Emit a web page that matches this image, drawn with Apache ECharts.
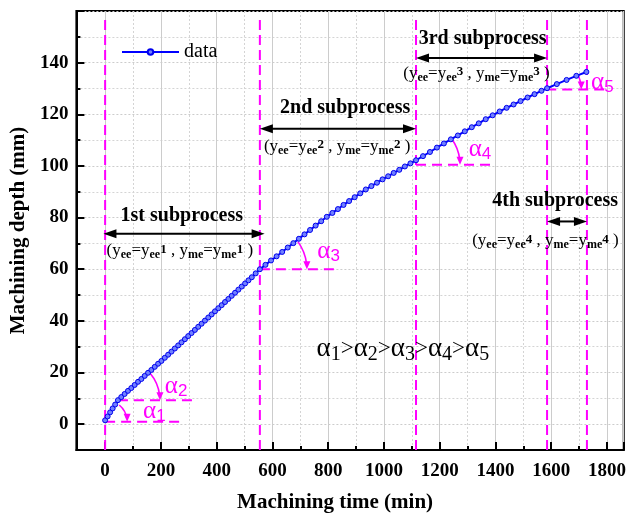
<!DOCTYPE html>
<html>
<head>
<meta charset="utf-8">
<script src="https://cdn.jsdelivr.net/npm/echarts@6/dist/echarts.min.js"></script>
<style>
  html, body { margin: 0; padding: 0; background: #fff; }
  #chart { width: 629px; height: 518px; }
</style>
</head>
<body>
<div id="chart"></div>
<script>
// Machining depth (mm) recorded against machining time (min)
const times = [
  0, 9, 18, 27, 36, 46,
  58, 70, 82, 94, 106, 118, 130, 142, 154, 166, 178, 190, 202, 214, 226, 238, 250, 262, 274, 286,
  298, 310, 322, 334, 346, 358, 370, 382, 394, 406, 418, 430, 442, 454, 466, 478, 490, 502, 514,
  526, 540, 555,
  575, 595, 615, 635, 655, 675, 695, 715, 735, 755, 775, 795, 815, 835, 855, 875, 895, 915, 935,
  955, 975, 995, 1015, 1035, 1055, 1075, 1095, 1115,
  1140, 1165, 1190, 1215, 1240, 1265, 1290, 1315, 1340, 1365, 1390, 1415, 1440, 1465, 1490, 1515,
  1540, 1565, 1585,
  1620, 1655, 1690, 1726
];
const depths = [
  1.5, 3.0, 4.6, 6.1, 7.6, 9.3,
  10.5, 11.7, 12.9, 14.0, 15.2, 16.4, 17.5, 18.7, 19.9, 21.0, 22.2, 23.4, 24.5, 25.7, 26.9, 28.1, 29.3, 30.5, 31.7, 32.9,
  34.1, 35.3, 36.5, 37.7, 38.9, 40.1, 41.3, 42.5, 43.7, 44.9, 46.1, 47.3, 48.5, 49.7, 50.9, 52.1, 53.3, 54.5, 55.7,
  56.9, 58.4, 60.0,
  61.7, 63.4, 65.0, 66.7, 68.4, 70.1, 71.8, 73.5, 75.2, 76.9, 78.6, 80.3, 81.8, 83.3, 84.9, 86.4, 87.9, 89.4, 90.9,
  92.2, 93.5, 94.8, 96.0, 97.3, 98.5, 99.8, 101.0, 102.2,
  103.8, 105.4, 107.1, 108.7, 110.3, 111.8, 113.4, 115.0, 116.5, 118.1, 119.6, 121.1, 122.5, 123.8, 125.1, 126.5,
  127.8, 129.1, 130.1,
  131.7, 133.3, 134.9, 136.4
];

// Subprocess boundaries (min) and their labels
const boundaries = [0, 555, 1115, 1585, 1728];
const subprocessNames = ['1st subprocess', '2nd subprocess', '3rd subprocess', '4th subprocess'];
const angleNames = ['1', '2', '3', '4', '5'];

const SERIF = '"Liberation Serif", "Times New Roman", serif';
const SANS = '"Liberation Sans", Arial, sans-serif';
const MAGENTA = '#ff00ff';

const series0 = times.map((t, i) => [t, depths[i]]);

// ---- annotation layer (all anchored in data coordinates) ----
const annos = [];
boundaries.forEach(t => annos.push({ kind: 'vline', t: t, d0: -10, d1: 157 }));

// reference lines and angle arcs at the start of each stage
const angleMarks = [
  { t: 0,    d: 0.9,   end: 280,  r: 22, a: 50, lt: 136,  ld: 5.0 },
  { t: 46,   d: 9.3,   end: 327,  r: 42, a: 40, lt: 214,  ld: 14.7 },
  { t: 555,  d: 60,    end: 840,  r: 47, a: 36, lt: 761,  ld: 66.8 },
  { t: 1115, d: 100.5, end: 1387, r: 44, a: 36, lt: 1304, ld: 106.4 },
  { t: 1582, d: 129.6, end: 1792, r: 35, a: 24, lt: 1743, ld: 132.4 }
];
angleMarks.forEach((m, i) => {
  annos.push({ kind: 'hline', t: m.t, d: m.d, t1: m.end });
  annos.push({ kind: 'arc', t: m.t, d: m.d, r: m.r, a: m.a });
  annos.push({ kind: 'alpha', t: m.lt, d: m.ld, n: angleNames[i] });
});

// stage spans: double arrows, titles and parameter notes
const stageMarks = [
  { t0: -6,   t1: 572,  ad: 73.7,  tt: 275,  td: 80.7,  pt: 268,  pd: 67.2 },
  { t0: 555,  t1: 1115, ad: 114.4, tt: 861,  td: 122.6, pt: 832,  pd: 107.7 },
  { t0: 1115, t1: 1585, ad: 141.8, tt: 1354, td: 149.2, pt: 1332, pd: 135.9 },
  { t0: 1585, t1: 1728, ad: 78.5,  tt: 1614, td: 86.5,  pt: 1579, pd: 71.0 }
];
stageMarks.forEach((s, i) => {
  annos.push({ kind: 'darrow', t: s.t0, t1: s.t1, d: s.ad });
  annos.push({ kind: 'title', t: s.tt, d: s.td, text: subprocessNames[i] });
  annos.push({ kind: 'param', t: s.pt, d: s.pd, n: String(i + 1) });
});
annos.push({ kind: 'order', t: 1068, d: 29 });

function renderAnno(params, api) {
  const a = annos[params.dataIndex];
  if (a.kind === 'vline') {
    const p0 = api.coord([a.t, a.d0]), p1 = api.coord([a.t, a.d1]);
    return { type: 'line', shape: { x1: p0[0], y1: p0[1], x2: p1[0], y2: p1[1] },
      style: { stroke: MAGENTA, lineWidth: 2, lineDash: [10, 5] } };
  }
  if (a.kind === 'hline') {
    const p0 = api.coord([a.t, a.d]), p1 = api.coord([a.t1, a.d]);
    return { type: 'line', shape: { x1: p0[0], y1: p0[1], x2: p1[0], y2: p1[1] },
      style: { stroke: MAGENTA, lineWidth: 2, lineDash: [10, 6] } };
  }
  if (a.kind === 'arc') {
    const c = api.coord([a.t, a.d]);
    const ex = c[0] + a.r, ey = c[1];
    return { type: 'group', children: [
      { type: 'arc', shape: { cx: c[0], cy: c[1], r: a.r, startAngle: -a.a * Math.PI / 180, endAngle: -0.12, clockwise: true },
        style: { stroke: MAGENTA, lineWidth: 1.6, fill: null } },
      { type: 'polygon', shape: { points: [[ex - 3.5, ey - 8], [ex + 3.5, ey - 8], [ex, ey]] },
        style: { fill: MAGENTA } }
    ] };
  }
  if (a.kind === 'alpha') {
    const p = api.coord([a.t, a.d]);
    return { type: 'text', x: p[0], y: p[1], style: {
      text: '{a|α}{s|' + a.n + '}', align: 'left', verticalAlign: 'middle', fill: MAGENTA,
      rich: {
        a: { fontFamily: SERIF, fontSize: 25, lineHeight: 28, fill: MAGENTA },
        s: { fontFamily: SANS, fontSize: 17, lineHeight: 17, padding: [10, 0, 0, 0], fill: MAGENTA }
      } } };
  }
  if (a.kind === 'darrow') {
    const p0 = api.coord([a.t, a.d]), p1 = api.coord([a.t1, a.d]);
    const y = p0[1];
    return { type: 'group', children: [
      { type: 'line', shape: { x1: p0[0] + 6, y1: y, x2: p1[0] - 6, y2: y }, style: { stroke: '#000', lineWidth: 2 } },
      { type: 'polygon', shape: { points: [[p0[0], y], [p0[0] + 13, y - 4.5], [p0[0] + 13, y + 4.5]] }, style: { fill: '#000' } },
      { type: 'polygon', shape: { points: [[p1[0], y], [p1[0] - 13, y - 4.5], [p1[0] - 13, y + 4.5]] }, style: { fill: '#000' } }
    ] };
  }
  if (a.kind === 'title') {
    const p = api.coord([a.t, a.d]);
    return { type: 'text', x: p[0], y: p[1], style: {
      text: a.text, fontFamily: SERIF, fontWeight: 'bold', fontSize: 20, fill: '#000',
      align: 'center', verticalAlign: 'middle' } };
  }
  if (a.kind === 'param') {
    const p = api.coord([a.t, a.d]);
    const n = a.n;
    return { type: 'text', x: p[0], y: p[1], style: {
      text: '{m|(y}{s|ee}{m|=y}{s|ee}{u|' + n + '}{m| , y}{s|me}{m|=y}{s|me}{u|' + n + '}{m| )}',
      align: 'center', verticalAlign: 'middle', fill: '#000',
      rich: {
        m: { fontFamily: SERIF, fontSize: 17, lineHeight: 20, fill: '#000' },
        s: { fontFamily: SERIF, fontSize: 12, fontWeight: 'bold', lineHeight: 12, padding: [9, 0, 0, 0], fill: '#000' },
        u: { fontFamily: SERIF, fontSize: 13, fontWeight: 'bold', lineHeight: 13, padding: [0, 0, 3, 0], fill: '#000' }
      } } };
  }
  if (a.kind === 'order') {
    const p = api.coord([a.t, a.d]);
    const parts = angleNames.map(n => '{a|α}{s|' + n + '}');
    return { type: 'text', x: p[0], y: p[1], style: {
      text: parts.join('{g|>}'), align: 'center', verticalAlign: 'middle', fill: '#000',
      rich: {
        a: { fontFamily: SERIF, fontSize: 27, lineHeight: 28, fill: '#000' },
        s: { fontFamily: SERIF, fontSize: 20, lineHeight: 20, padding: [10, 0, 0, 0], fill: '#000' },
        g: { fontFamily: SERIF, fontSize: 23, lineHeight: 28, fill: '#000' }
      } } };
  }
  return null;
}

const axisFont = { fontFamily: SERIF, fontWeight: 'bold', fontSize: 19, color: '#000' };

const chart = echarts.init(document.getElementById('chart'), null, { renderer: 'canvas' });
chart.setOption({
  animation: false,
  backgroundColor: '#fff',
  grid: { left: 76, right: 4, top: 11, bottom: 68, show: true, borderColor: '#000', borderWidth: 2, backgroundColor: 'transparent' },
  legend: {
    data: ['data'], left: 116, top: 37, itemWidth: 57, itemHeight: 7, itemGap: 5,
    textStyle: { fontFamily: SERIF, fontSize: 20, color: '#000' }
  },
  xAxis: {
    type: 'value', min: -103, max: 1860, minInterval: 200, maxInterval: 200, splitNumber: 10,
    axisLine: { onZero: false, lineStyle: { color: '#000', width: 2 } },
    axisTick: { inside: true, length: 8, lineStyle: { color: '#000', width: 2 } },
    minorTick: { show: true, splitNumber: 2, length: 4, lineStyle: { color: '#000', width: 2 } },
    axisLabel: Object.assign({ margin: 12, showMinLabel: false, showMaxLabel: false,
      formatter: v => (v % 200 === 0 ? String(v) : '') }, axisFont),
    splitLine: { show: true, lineStyle: { color: '#cccccc', width: 1 } },
    minorSplitLine: { show: true, lineStyle: { color: '#d4d4d4', width: 1, type: [2, 2] } },
    name: 'Machining time (min)', nameLocation: 'middle', nameGap: 42,
    nameTextStyle: { fontFamily: SERIF, fontWeight: 'bold', fontSize: 21, color: '#000', padding: [0, 30, 0, 0] }
  },
  yAxis: {
    type: 'value', min: -10, max: 160, minInterval: 20, maxInterval: 20, splitNumber: 8,
    axisLine: { onZero: false, lineStyle: { color: '#000', width: 2 } },
    axisTick: { inside: true, length: 8, lineStyle: { color: '#000', width: 2 } },
    minorTick: { show: true, splitNumber: 2, length: 4, lineStyle: { color: '#000', width: 2 } },
    axisLabel: Object.assign({ margin: 8, showMinLabel: false, showMaxLabel: false,
      formatter: v => (v % 20 === 0 && v <= 140 ? String(v) : '') }, axisFont),
    splitLine: { show: true, lineStyle: { color: '#cccccc', width: 1, type: [2, 2] } },
    minorSplitLine: { show: true, lineStyle: { color: '#d4d4d4', width: 1, type: [2, 2] } },
    name: 'Machining depth (mm)', nameLocation: 'middle', nameGap: 46,
    nameTextStyle: { fontFamily: SERIF, fontWeight: 'bold', fontSize: 21, color: '#000' }
  },
  series: [
    {
      type: 'custom', name: 'annotations', z: 1, silent: true, clip: false,
      data: annos.map(a => [a.t, a.d !== undefined ? a.d : 0]),
      encode: { x: 0, y: 1 },
      renderItem: renderAnno
    },
    {
      type: 'line', name: 'data', z: 3, data: series0,
      symbol: 'circle', symbolSize: 5, showAllSymbol: true,
      lineStyle: { color: '#0000ff', width: 2 },
      itemStyle: { color: '#7080ff', borderColor: '#0000ee', borderWidth: 1 }
    }
  ]
});
</script>
</body>
</html>
